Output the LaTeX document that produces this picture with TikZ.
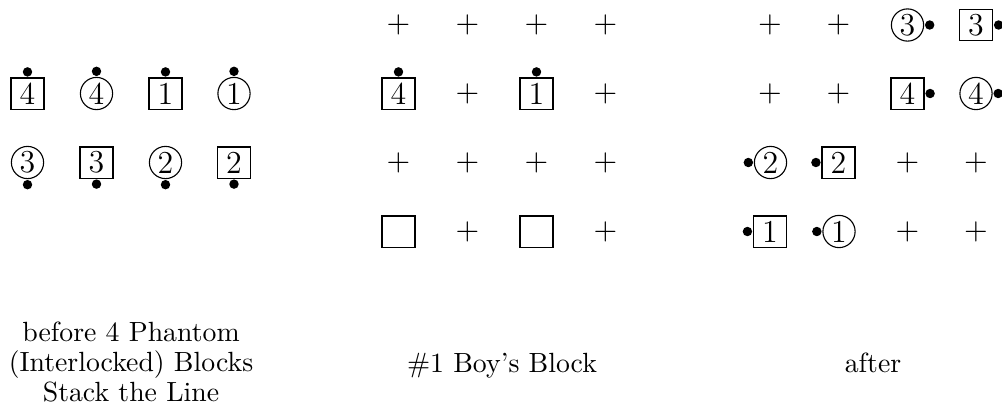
\documentclass[tikz,border=0pt]{standalone}
\begin{document}
\begin{tikzpicture}[x=0.36pt,y=-0.36pt,
  blk/.style={draw,line width=0.4pt,minimum width=11.9pt,minimum height=11.2pt,inner sep=0pt,font=\fontsize{11.5pt}{13pt}\selectfont},
  cblk/.style={draw,circle,line width=0.4pt,minimum size=11.6pt,inner sep=0pt,font=\fontsize{11.5pt}{13pt}\selectfont},
  pl/.style={inner sep=0pt,font=\fontsize{10.5pt}{12pt}\selectfont},
  knob/.style={fill=black},
  captxt/.style={inner sep=0pt,align=center,font=\fontsize{10pt}{10.8pt}\selectfont}]
\useasboundingbox (0,0) rectangle (1002,411);
% ---------- left panel: before ----------
\node[blk]  (a1) at (27.5,93.5) {4};
\node[cblk] (a2) at (96.5,93.5) {4};
\node[blk]  (a3) at (165.5,93.5) {1};
\node[cblk] (a4) at (234,93.5) {1};
\node[cblk] (a5) at (27.5,162.5) {3};
\node[blk]  (a6) at (96.5,162.5) {3};
\node[cblk] (a7) at (165.5,162.5) {2};
\node[blk]  (a8) at (234,162.5) {2};
\foreach \n in {a1,a2,a3,a4}{\fill[knob] (\n.north) ++(0,-5.5) circle[radius=1.7pt];}
\foreach \n in {a5,a6,a7,a8}{\fill[knob] (\n.south) ++(0,5.5) circle[radius=1.7pt];}
% ---------- middle panel: #1 Boy's Block ----------
\node[pl] (b11) at (398.5,25) {$+$};
\node[pl] (b12) at (467.5,25) {$+$};
\node[pl] (b13) at (536.5,25) {$+$};
\node[pl] (b14) at (605.5,25) {$+$};
\node[blk] (b21) at (398.5,93.5) {4};
\node[pl]  (b22) at (467.5,93.5) {$+$};
\node[blk] (b23) at (536.5,93.5) {1};
\node[pl]  (b24) at (605.5,93.5) {$+$};
\node[pl] (b31) at (398.5,162.5) {$+$};
\node[pl] (b32) at (467.5,162.5) {$+$};
\node[pl] (b33) at (536.5,162.5) {$+$};
\node[pl] (b34) at (605.5,162.5) {$+$};
\node[blk] (b41) at (398.5,231.5) {\phantom{4}};
\node[pl]  (b42) at (467.5,231.5) {$+$};
\node[blk] (b43) at (536.5,231.5) {\phantom{4}};
\node[pl]  (b44) at (605.5,231.5) {$+$};
\foreach \n in {b21,b23}{\fill[knob] (\n.north) ++(0,-5.5) circle[radius=1.7pt];}
% ---------- right panel: after ----------
\node[pl]   (c11) at (770,25) {$+$};
\node[pl]   (c12) at (838.5,25) {$+$};
\node[cblk] (c13) at (907.5,25) {3};
\node[blk]  (c14) at (976,25) {3};
\node[pl]   (c21) at (770,93.5) {$+$};
\node[pl]   (c22) at (838.5,93.5) {$+$};
\node[blk]  (c23) at (907.5,93.5) {4};
\node[cblk] (c24) at (976,93.5) {4};
\node[cblk] (c31) at (770.5,162.5) {2};
\node[blk]  (c32) at (838.5,162.5) {2};
\node[pl]   (c33) at (907.5,162.5) {$+$};
\node[pl]   (c34) at (976,162.5) {$+$};
\node[blk]  (c41) at (770,231.5) {1};
\node[cblk] (c42) at (839,231.5) {1};
\node[pl]   (c43) at (907.5,231.5) {$+$};
\node[pl]   (c44) at (976,231.5) {$+$};
\foreach \n in {c13,c14,c23,c24}{\fill[knob] (\n.east) ++(5.5,0) circle[radius=1.7pt];}
\foreach \n in {c31,c32,c41,c42}{\fill[knob] (\n.west) ++(-5.5,0) circle[radius=1.7pt];}
% ---------- captions ----------
\node[captxt] (t1) at (131,362.3) {before 4 Phantom\\(Interlocked) Blocks\\Stack the Line};
\node[captxt,anchor=base] (t2) at (502,372) {\#1 Boy's Block};
\node[captxt,anchor=base] (t3) at (873,372) {after};
\end{tikzpicture}
\end{document}
